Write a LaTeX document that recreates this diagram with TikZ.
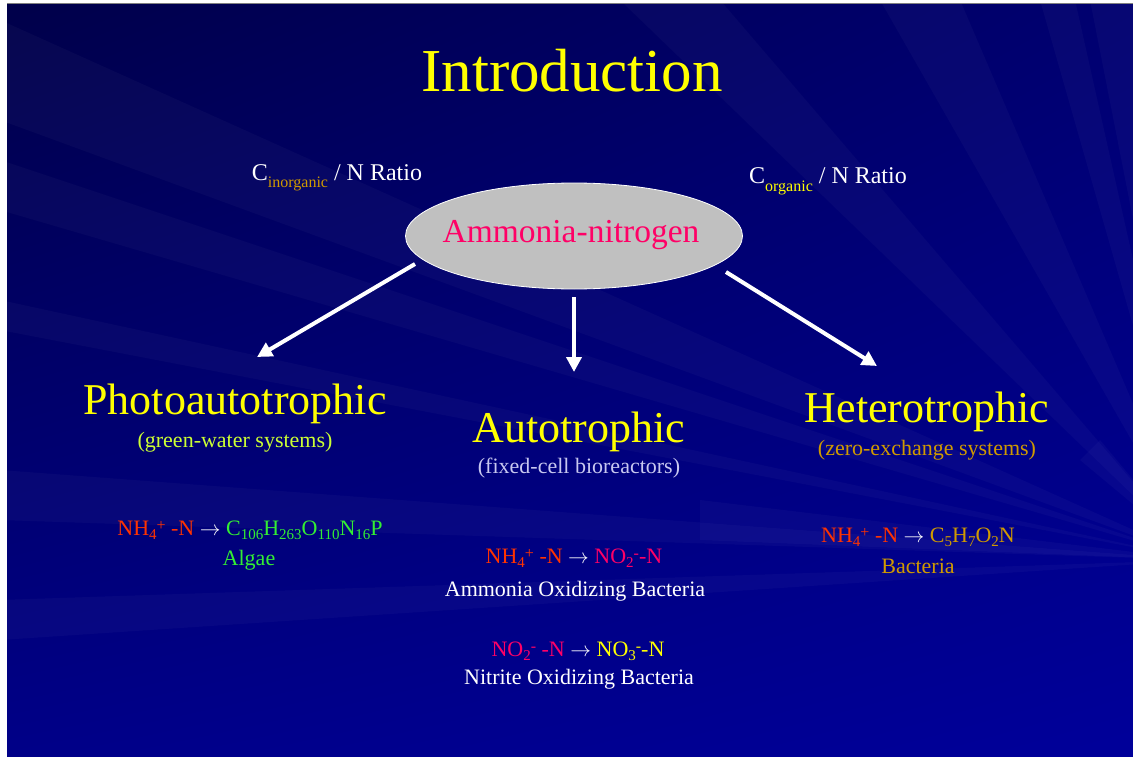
\documentclass[tikz,border=0pt]{standalone}
\usepackage{fontspec}
\setmainfont{Liberation Serif}
\usetikzlibrary{arrows.meta,shapes.geometric,shadings}
\definecolor{bgA}{HTML}{00004A}
\definecolor{bgB}{HTML}{000070}
\definecolor{bgC}{HTML}{000088}
\definecolor{bgD}{HTML}{00009A}
\definecolor{ttl}{HTML}{FFFF00}
\definecolor{gold}{HTML}{D09A00}
\definecolor{ylw}{HTML}{FFFF00}
\definecolor{pnk}{HTML}{FF0066}
\definecolor{rorg}{HTML}{FF3300}
\definecolor{grn}{HTML}{33EE33}
\definecolor{lgrn}{HTML}{CCFF33}
\definecolor{lav}{HTML}{C8C8F0}
\definecolor{ellfill}{HTML}{C0C0C0}
\newcommand{\fs}[1]{\fontsize{#1}{#1}\selectfont}
\newcommand{\sbs}[1]{\raisebox{-4.5pt}{\fs{15}#1}}
\newcommand{\sps}[1]{\raisebox{5pt}{\fs{16}#1}}
\newcommand{\lowsub}[1]{\raisebox{-7pt}{\fs{16}#1}}
\tikzset{
  lbl/.style={anchor=base, inner sep=0pt, text=white},
  headtxt/.style={lbl, text=ttl, font=\fs{44}},
  subtxt/.style={lbl, font=\fs{22}},
  eqtxt/.style={lbl, font=\fs{22}},
  flow/.style={draw=white, line width=4pt, -{Triangle[length=15pt,width=15pt]}},
  ray/.style={fill=white, opacity=0.028}
}
\begin{document}
\begin{tikzpicture}[x=1pt,y=-1pt]
\useasboundingbox (0,0) rectangle (1133,757);
\fill[white] (0,0) rectangle (1133,757);
\fill[gray] (7,3) rectangle (1133,5);
\shade[upper left=bgA, upper right=bgB, lower left=bgC, lower right=bgD] (7,5) rectangle (1133,757);
% light rays from the right
\begin{scope}
\clip (7,5) rectangle (1133,757);
\fill[ray] (1200,560) -- (0,20) -- (0,120) -- cycle;
\fill[ray] (1200,560) -- (0,160) -- (0,210) -- cycle;
\fill[ray] (1200,560) -- (1040,0) -- (1075,0) -- cycle;
\fill[ray] (1200,560) -- (1090,0) -- (1133,0) -- cycle;
\fill[ray] (1200,560) -- (880,0) -- (960,0) -- cycle;
\fill[ray] (1200,560) -- (620,0) -- (720,0) -- cycle;
\fill[ray] (1200,560) -- (0,300) -- (0,330) -- cycle;
\fill[ray] (1200,560) -- (0,470) -- (0,520) -- cycle;
\fill[ray] (1200,560) -- (700,500) -- (700,540) -- cycle;
\fill[ray] (1200,560) -- (0,600) -- (0,640) -- cycle;
\fill[ray] (1200,560) -- (1100,440) -- (1080,460) -- cycle;
\end{scope}

\node[lbl, text=ttl, font=\fs{61}] (title) at (572,92) {Introduction};

\node[lbl, font=\fs{24}] (cin) at (337,181) {C\lowsub{\color{gold}inorganic} / N Ratio};
\node[lbl, font=\fs{24}] (corg) at (828,184) {C\lowsub{\color{ylw}organic} / N Ratio};

\node[ellipse, draw=white, line width=0.8pt, fill=ellfill, minimum width=337pt, minimum height=106pt, inner sep=0pt] (amm) at (574,236) {};
\node[lbl, text=pnk, font=\fs{33.5}] (ammtxt) at (571,242) {Ammonia-nitrogen};

\coordinate (ls) at (415,264);
\coordinate (le) at (257,357);
\coordinate (ms) at (574,297);
\coordinate (me) at (574,372);
\coordinate (rs) at (726,272);
\coordinate (re) at (877,366);
\draw[flow] (ls) -- (le);
\draw[flow] (ms) -- (me);
\draw[flow] (rs) -- (re);

\node[headtxt] (photo) at (235,414) {Photoautotrophic};
\node[subtxt, text=lgrn] (photosub) at (235,447) {(green-water systems)};
\node[headtxt] (auto) at (579,442) {Autotrophic};
\node[subtxt, text=lav] (autosub) at (579,473) {(fixed-cell bioreactors)};
\node[headtxt] (hetero) at (927,422) {Heterotrophic};
\node[subtxt, text=gold] (heterosub) at (927,455) {(zero-exchange systems)};

\node[eqtxt] (eqL) at (250,535) {{\color{rorg}NH\sbs{4}\sps{+} -N} $\rightarrow$ {\color{grn}C\sbs{106}H\sbs{263}O\sbs{110}N\sbs{16}P}};
\node[eqtxt, text=grn] (algae) at (249,565) {Algae};

\node[eqtxt] (eqM1) at (574,563) {{\color{rorg}NH\sbs{4}\sps{+} -N} $\rightarrow$ {\color{pnk}NO\sbs{2}\sps{-}-N}};
\node[eqtxt] (aob) at (575,596) {Ammonia Oxidizing Bacteria};
\node[eqtxt] (eqM2) at (578,656) {{\color{pnk}NO\sbs{2}\sps{-} -N} $\rightarrow$ {\color{ylw}NO\sbs{3}\sps{-}-N}};
\node[eqtxt] (nob) at (579,684) {Nitrite Oxidizing Bacteria};

\node[eqtxt] (eqR) at (918,542) {{\color{rorg}NH\sbs{4}\sps{+} -N} $\rightarrow$ {\color{gold}C\sbs{5}H\sbs{7}O\sbs{2}N}};
\node[eqtxt, text=gold] (bact) at (918,573) {Bacteria};
\end{tikzpicture}
\end{document}
